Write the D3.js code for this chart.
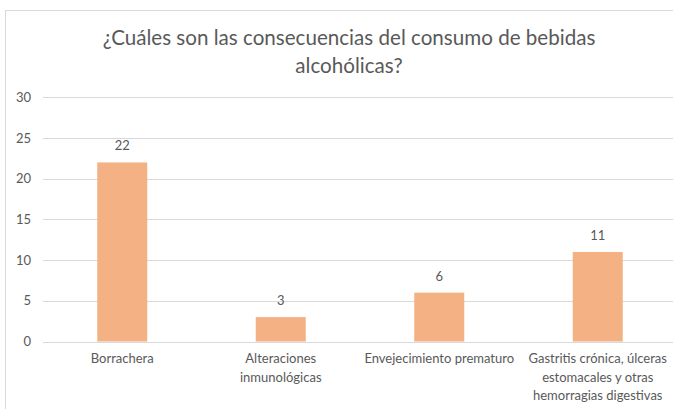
<!DOCTYPE html>
<html>
<head>
<meta charset="utf-8">
<script src="https://cdn.jsdelivr.net/npm/d3@7"></script>
<style>
  html, body { margin: 0; padding: 0; background: #fff; }
  svg { display: block; }
  text { font-family: Lato, "Open Sans", sans-serif; fill: #595959; }
</style>
</head>
<body>
<svg id="chart" width="673" height="409"></svg>
<script>
// Chart content
const titleLines = ["¿Cuáles son las consecuencias del consumo de bebidas", "alcohólicas?"];
const categories = ["Borrachera", "Alteraciones inmunológicas", "Envejecimiento prematuro",
  "Gastritis crónica, úlceras estomacales y otras hemorragias digestivas"];
const categoryLines = [
  ["Borrachera"],
  ["Alteraciones", "inmunológicas"],
  ["Envejecimiento prematuro"],
  ["Gastritis crónica, úlceras", "estomacales y otras", "hemorragias digestivas"]
];
const values = [22, 3, 6, 11];
const yTicks = [0, 5, 10, 15, 20, 25, 30];

const svg = d3.select("#chart");
const smallFont = 13;

// outer chart frame
svg.append("rect")
  .attr("x", 5.5).attr("y", 10.5)
  .attr("width", 720).attr("height", 420)
  .attr("fill", "#fff").attr("stroke", "#D9D9D9").attr("stroke-width", 1);

const plot = { left: 43, right: 677, top: 97.3, bottom: 341.5 };

const x = d3.scaleBand()
  .domain(categories)
  .range([plot.left, plot.right])
  .paddingInner(0.6845)
  .paddingOuter(0.6845 / 2);

const y = d3.scaleLinear()
  .domain([0, 30])
  .range([plot.bottom, plot.top]);

// horizontal gridlines
svg.append("g")
  .selectAll("line")
  .data(yTicks)
  .join("line")
  .attr("x1", plot.left).attr("x2", plot.right)
  .attr("y1", d => Math.round(y(d)) + 0.5)
  .attr("y2", d => Math.round(y(d)) + 0.5)
  .attr("stroke", "#D9D9D9").attr("stroke-width", 1);

// y axis labels
const yAxis = d3.axisLeft(y).tickValues(yTicks).tickSize(0).tickPadding(12);
const gy = svg.append("g")
  .attr("transform", `translate(${plot.left},0)`)
  .call(yAxis);
gy.select(".domain").remove();
gy.selectAll("text")
  .attr("font-family", "Lato, sans-serif")
  .attr("font-size", smallFont)
  .attr("fill", "#595959");

// bars
svg.append("g")
  .selectAll("rect")
  .data(values)
  .join("rect")
  .attr("x", (d, i) => x(categories[i]))
  .attr("y", d => y(d))
  .attr("width", x.bandwidth())
  .attr("height", d => y(0) - y(d))
  .attr("fill", "#F4B183");

// value labels
svg.append("g")
  .selectAll("text")
  .data(values)
  .join("text")
  .attr("x", (d, i) => x(categories[i]) + x.bandwidth() / 2)
  .attr("y", d => y(d) - 12)
  .attr("text-anchor", "middle")
  .attr("font-size", smallFont)
  .text(d => d);

// category labels
const gx = svg.append("g");
categories.forEach((c, i) => {
  const t = gx.append("text")
    .attr("x", x(c) + x.bandwidth() / 2)
    .attr("y", 363)
    .attr("text-anchor", "middle")
    .attr("font-size", smallFont);
  categoryLines[i].forEach((line, j) => {
    t.append("tspan")
      .attr("x", x(c) + x.bandwidth() / 2)
      .attr("dy", j === 0 ? 0 : 18.5)
      .text(line);
  });
});

// title
const title = svg.append("text")
  .attr("text-anchor", "middle")
  .attr("font-size", 20.6);
titleLines.forEach((line, j) => {
  title.append("tspan")
    .attr("x", 349)
    .attr("y", 44.5 + j * 28.5)
    .text(line);
});
</script>
</body>
</html>
